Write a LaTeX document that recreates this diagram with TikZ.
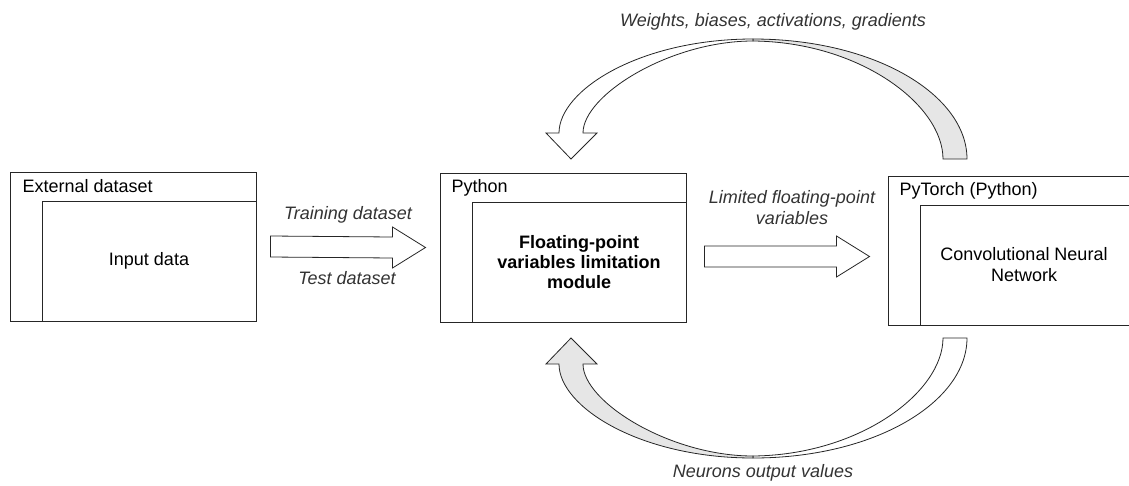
\documentclass[tikz,border=0pt]{standalone}
\usepackage{fontspec}
\setmainfont{Liberation Sans}
\usetikzlibrary{calc}
\usetikzlibrary{positioning}

\definecolor{ribbongray}{RGB}{230,230,230}
\tikzset{
    txt/.style = {font=\fontsize{18}{21}\selectfont},
    lbl/.style = {font=\fontsize{18}{21}\selectfont\itshape, align=center, text=black!80},
    outerbox/.style = {draw=black!85, line width=1pt, minimum width=246pt, minimum height=149pt, inner sep=0pt},
    innerbox/.style = {draw=black!85, line width=1pt, minimum width=214pt, minimum height=120pt, inner sep=0pt, anchor=south east, align=center, txt},
    headtext/.style = {anchor=west, inner sep=0pt, txt},
    arrowbody/.style = {draw=black!85, line width=0.8pt, fill=white, line join=miter},
}
\newcommand{\blockarrow}[2]{%
    \draw[arrowbody] ($(#1)+(0,-10.5)$) -- ($(#2)+(-33,-10.5)$) -- ($(#2)+(-33,-20.5)$) -- (#2)
        -- ($(#2)+(-33,20.5)$) -- ($(#2)+(-33,10.5)$) -- ($(#1)+(0,10.5)$) -- cycle;}

\begin{document}
\begin{tikzpicture}[x=1pt, y=-1pt]
    \useasboundingbox (0,0) rectangle (1129,485);

    \node [outerbox] (ext) at (133,246.5) {};
    \node [innerbox] (extin) at (ext.south east) {Input data};
    \node [headtext] (exthd) at ($(ext.north west)+(13,14.5)$) {External dataset};

    \node [outerbox] (py) at (563,247.5) {};
    \node [innerbox, font=\fontsize{18}{20}\selectfont\bfseries] (pyin) at (py.south east) {Floating-point\\variables limitation\\module};
    \node [headtext] (pyhd) at ($(py.north west)+(12,15)$) {Python};

    \node [outerbox] (cnn) at (1011,250.5) {};
    \node [innerbox] (cnnin) at (cnn.south east) {\hspace*{-6pt}Convolutional Neural\\\hspace*{-6pt}Network};
    \node [headtext] (cnnhd) at ($(cnn.north west)+(12,15)$) {PyTorch (Python)};

    \coordinate (trs) at ($(ext.east)+(14,0)$);
    \coordinate (trt) at ($(py.west)+(-14,0)$);
    \blockarrow{trs}{trt}
    \node [lbl] (trlbl) at (348,215) {Training dataset};
    \node [lbl] (telbl) at (347,278) {Test dataset};

    \coordinate (lfs) at ($(py.east)+(18,9)$);
    \coordinate (lft) at ($(cnn.west)+(-18,6)$);
    \blockarrow{lfs}{lft}
    \node [lbl] (lflbl) at (792,208) {Limited floating-point\\variables};

    % top curved arrow
    \draw [arrowbody, fill=ribbongray] (753,39) .. controls (875,39) and (967,95) .. (967,159)
        -- (943,159) .. controls (943,105) and (860,42) .. (753,41) -- cycle;
    \draw [arrowbody] (571,159) -- (546,133) -- (559,133) .. controls (559,90) and (640,39) .. (753,39)
        -- (753,41) .. controls (670,41) and (583,95) .. (583,133) -- (597,133) -- cycle;
    \node [lbl] (wlbl) at (773,22) {Weights, biases, activations, gradients};

    % bottom curved arrow
    \begin{scope}[shift={(0,497)}, yscale=-1]
        \draw [arrowbody] (753,39) .. controls (875,39) and (967,95) .. (967,159)
            -- (943,159) .. controls (943,105) and (860,42) .. (753,41) -- cycle;
        \draw [arrowbody, fill=ribbongray] (571,159) -- (546,133) -- (559,133) .. controls (559,90) and (640,39) .. (753,39)
            -- (753,41) .. controls (670,41) and (583,95) .. (583,133) -- (597,133) -- cycle;
    \end{scope}
    \node [lbl] (nlbl) at (763,473) {Neurons output values};
\end{tikzpicture}
\end{document}
